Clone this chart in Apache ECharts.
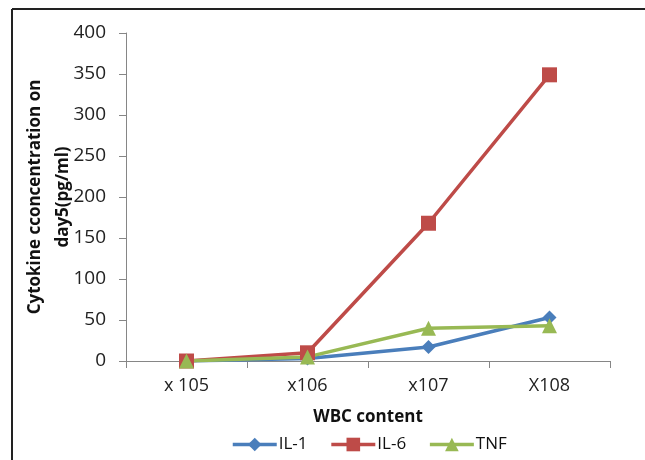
<!DOCTYPE html>
<html>
<head>
<meta charset="utf-8">
<script src="https://cdn.jsdelivr.net/npm/echarts@6/dist/echarts.min.js"></script>
<style>
html,body{margin:0;padding:0;background:#fff;}
#chart{width:645px;height:460px;}
</style>
</head>
<body>
<div id="chart"></div>
<script>
var categories = ['x 105', 'x106', 'x107', 'X108'];
var il1 = [0, 3, 17, 53];
var il6 = [0, 10, 168, 349];
var tnf = [0, 5, 40, 43];
var yTicks = [0, 50, 100, 150, 200, 250, 300, 350, 400];

var chart = echarts.init(document.getElementById('chart'), null, {renderer: 'canvas'});
var fontFam = '"Open Sans", "Liberation Sans", sans-serif';
chart.setOption({
  animation: false,
  graphic: [
    {type: 'line', shape: {x1: 12, y1: 9, x2: 645, y2: 9}, style: {stroke: '#222', lineWidth: 2}},
    {type: 'line', shape: {x1: 12, y1: 9, x2: 12, y2: 460}, style: {stroke: '#222', lineWidth: 2}}
  ],
  grid: {left: 126, right: 35, top: 33, bottom: 99},
  legend: {
    top: 431, left: 226, itemGap: 22, itemWidth: 44, itemHeight: 17,
    lineStyle: {width: 3.5},
    textStyle: {fontFamily: fontFam, fontSize: 17, color: '#111', padding: [0, 0, 0, -3]},
    data: ['IL-1', 'IL-6', 'TNF']
  },
  xAxis: {
    type: 'category', data: categories, boundaryGap: true,
    name: 'WBC content', nameLocation: 'middle', nameGap: 48, nameMoveOverlap: false,
    nameTextStyle: {fontFamily: fontFam, fontSize: 17, fontWeight: 'bold', color: '#111'},
    axisLine: {lineStyle: {color: '#868686', width: 1}},
    axisTick: {show: true, length: 7, lineStyle: {color: '#868686'}},
    axisLabel: {fontFamily: fontFam, fontSize: 18, color: '#222', margin: 16}
  },
  yAxis: {
    type: 'value', min: 0, max: 400, interval: 50,
    name: 'Cytokine cconcentration on\nday5(pg/ml)', nameLocation: 'middle', nameGap: 49,
    nameMoveOverlap: false, nameRotate: 90,
    nameTextStyle: {fontFamily: fontFam, fontSize: 17, fontWeight: 'bold', color: '#111', lineHeight: 28},
    axisLine: {show: true, lineStyle: {color: '#868686', width: 1}},
    axisTick: {show: true, length: 7, lineStyle: {color: '#868686'}},
    splitLine: {show: false},
    axisLabel: {fontFamily: fontFam, fontSize: 19, color: '#222', margin: 20,
      formatter: function (v) { return yTicks.indexOf(v) >= 0 ? String(v) : ''; }}
  },
  series: [
    {name: 'IL-1', type: 'line', data: il1, symbol: 'diamond', symbolSize: 14,
      itemStyle: {color: '#4A7EBB'}, lineStyle: {width: 3.5, color: '#4A7EBB'}},
    {name: 'IL-6', type: 'line', data: il6, symbol: 'rect', symbolSize: 15,
      itemStyle: {color: '#BE4B48'}, lineStyle: {width: 3.5, color: '#BE4B48'}},
    {name: 'TNF', type: 'line', data: tnf, symbol: 'triangle', symbolSize: 15,
      itemStyle: {color: '#98B954'}, lineStyle: {width: 3.5, color: '#98B954'}}
  ]
});
</script>
</body>
</html>
